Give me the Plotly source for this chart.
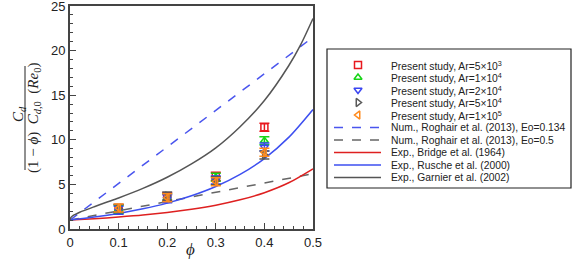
import plotly.graph_objects as go

W, H = 580, 261

# ---------------- data ----------------
phi_pts = [0.1, 0.2, 0.3, 0.4]
ar_5e3 = [2.3, 3.6, 5.9, 11.4]
ar_1e4 = [2.2, 3.5, 5.8, 9.9]
ar_2e4 = [2.1, 3.4, 5.5, 9.2]
ar_5e4 = [2.3, 3.7, 5.4, 8.3]
ar_1e5 = [2.35, 3.5, 5.3, 8.6]
err_pts = [0.45, 0.45, 0.45, 0.45]

phi_lin = [0.0, 0.1, 0.2, 0.3, 0.4, 0.5]
roghair_0134 = [1.0, 5.1, 9.2, 13.3, 17.4, 21.5]
roghair_05 = [1.0, 2.04, 3.08, 4.12, 5.16, 6.2]

phi_c = [0.0, 0.05, 0.1, 0.15, 0.2, 0.25, 0.3, 0.35, 0.4, 0.45, 0.5]
bridge = [1.0, 1.15, 1.34, 1.56, 1.85, 2.21, 2.67, 3.27, 4.07, 5.18, 6.75]
rusche = [1.0, 1.34, 1.75, 2.26, 2.90, 3.72, 4.76, 6.12, 7.90, 10.27, 13.4]

phi_g = [0.0, 0.001, 0.005, 0.01, 0.02, 0.05, 0.075, 0.1, 0.15, 0.2, 0.25,
         0.3, 0.35, 0.4, 0.45, 0.475, 0.5]
garnier = [1.0, 1.23, 1.46, 1.62, 1.88, 2.50, 2.99, 3.48, 4.55, 5.80, 7.30,
           9.10, 11.47, 14.4, 18.3, 20.7, 23.6]

x_ticks = [0, 0.1, 0.2, 0.3, 0.4, 0.5]
x_tick_text = ["0", "0.1", "0.2", "0.3", "0.4", "0.5"]
y_ticks = [0, 5, 10, 15, 20, 25]

legend_labels = [
    "Present study, Ar=5×10<sup>3</sup>",
    "Present study, Ar=1×10<sup>4</sup>",
    "Present study, Ar=2×10<sup>4</sup>",
    "Present study, Ar=5×10<sup>4</sup>",
    "Present study, Ar=1×10<sup>5</sup>",
    "Num., Roghair et al. (2013), Eo=0.134",
    "Num., Roghair et al. (2013), Eo=0.5",
    "Exp., Bridge et al. (1964)",
    "Exp., Rusche et al. (2000)",
    "Exp., Garnier et al. (2002)",
]

# ---------------- styles ----------------
RED = "#e8181e"
GREEN = "#16d416"
BLUE = "#3a45f2"
GRAY = "#5a5a5a"
ORANGE = "#ff8a1c"
DBLUE = "#4a55ee"
DGRAY = "#666666"
LRED = "#de2020"
LBLUE = "#3d4ff0"
LGRAY = "#555555"

marker_series = [
    (ar_5e3, "square-open", RED),
    (ar_1e4, "triangle-up-open", GREEN),
    (ar_2e4, "triangle-down-open", BLUE),
    (ar_5e4, "triangle-right-open", GRAY),
    (ar_1e5, "triangle-left-open", ORANGE),
]
line_series = [
    (phi_lin, roghair_0134, DBLUE, "dash", "linear"),
    (phi_lin, roghair_05, DGRAY, "dash", "linear"),
    (phi_c, bridge, LRED, "solid", "spline"),
    (phi_c, rusche, LBLUE, "solid", "spline"),
    (phi_g, garnier, LGRAY, "solid", "spline"),
]

# plot area in pixels
PL, PR, PT, PB = 70, 313, 6, 229
# legend box in pixels
LL, LR, LT, LB = 327, 571, 49, 188

fig = go.Figure()

for xs, ys, c, d, shp in line_series:
    fig.add_trace(go.Scatter(x=xs, y=ys, mode="lines",
                             line=dict(color=c, width=1.5, dash=d, shape=shp,
                                       smoothing=0.8),
                             showlegend=False, hoverinfo="skip"))

for ys, sym, c in marker_series:
    fig.add_trace(go.Scatter(
        x=phi_pts, y=ys, mode="markers",
        marker=dict(symbol=sym, size=7, color=c, line=dict(color=c, width=1.5)),
        error_y=dict(type="data", array=err_pts, color=c, thickness=1.5, width=5),
        showlegend=False))

# ---------------- manual legend ----------------
row_y = [16 + 12.5 * i for i in range(10)]
for i, (ys, sym, c) in enumerate(marker_series):
    fig.add_trace(go.Scatter(
        x=[31], y=[row_y[i]], mode="markers", xaxis="x2", yaxis="y2",
        marker=dict(symbol=sym, size=7, color=c, line=dict(color=c, width=1.5)),
        showlegend=False, hoverinfo="skip"))
for j, (xs, ys, c, d, shp) in enumerate(line_series):
    i = j + 5
    fig.add_trace(go.Scatter(
        x=[7, 54], y=[row_y[i], row_y[i]], mode="lines", xaxis="x2", yaxis="y2",
        line=dict(color=c, width=1.5, dash="dash" if d == "dash" else "solid"),
        showlegend=False, hoverinfo="skip"))
for i, lab in enumerate(legend_labels):
    fig.add_annotation(x=62, y=row_y[i], xref="x2", yref="y2", text=lab,
                       showarrow=False, xanchor="left", yanchor="middle",
                       font=dict(family="Liberation Sans, Arial", size=10.3, color="#222"))

fig.add_shape(type="rect", xref="paper", yref="paper",
              x0=LL / W, x1=LR / W, y0=1 - LB / H, y1=1 - LT / H,
              line=dict(color="#222", width=1.2), fillcolor="rgba(0,0,0,0)")

# ---------------- y title as fraction ----------------
serif = "Liberation Serif, DejaVu Serif, serif"
fig.add_annotation(x=8 / W, y=1 - 114 / H, xref="paper", yref="paper",
                   text="<i>C</i><sub><i>d</i></sub>", textangle=-90,
                   showarrow=False, font=dict(family=serif, size=15, color="#222"))
fig.add_annotation(x=23 / W, y=1 - 118 / H, xref="paper", yref="paper",
                   text="(1 − <i>ϕ</i>)  <i>C</i><sub><i>d</i>,0</sub>  (<i>Re</i><sub>0</sub>)",
                   textangle=-90, showarrow=False,
                   font=dict(family=serif, size=15, color="#222"))
fig.add_shape(type="line", xref="paper", yref="paper",
              x0=25 / W, x1=25 / W, y0=1 - 170 / H, y1=1 - 66 / H,
              line=dict(color="#222", width=1))

# x title
fig.add_annotation(x=184 / W, y=0, xref="paper", yref="paper",
                   text="<i>ϕ</i>", showarrow=False, yanchor="bottom",
                   font=dict(family=serif, size=17, color="#222"))

axis_font = dict(family="Liberation Sans, Arial", size=13, color="#222")
fig.update_layout(
    width=W, height=H,
    margin=dict(l=0, r=0, t=0, b=0),
    paper_bgcolor="white", plot_bgcolor="white",
    showlegend=False,
    xaxis=dict(domain=[PL / W, PR / W], range=[0, 0.5],
               tickvals=x_ticks, ticktext=x_tick_text,
               ticks="inside", ticklen=6, tickwidth=1, tickcolor="#444",
               minor=dict(dtick=0.02, ticks="inside", ticklen=3, tickcolor="#444"),
               showline=True, linecolor="#444", linewidth=2, mirror=True,
               showgrid=False, zeroline=False, tickfont=axis_font, automargin=False,
               ticklabeloverflow="allow"),
    yaxis=dict(domain=[1 - PB / H, 1 - PT / H], range=[0, 25],
               tickvals=y_ticks,
               ticks="inside", ticklen=6, tickwidth=1, tickcolor="#444",
               minor=dict(dtick=1, ticks="inside", ticklen=3, tickcolor="#444"),
               showline=True, linecolor="#444", linewidth=2, mirror=True,
               showgrid=False, zeroline=False, tickfont=axis_font, automargin=False,
               ticklabeloverflow="allow"),
    xaxis2=dict(domain=[LL / W, LR / W], range=[0, LR - LL], visible=False,
                anchor="y2", fixedrange=True),
    yaxis2=dict(domain=[1 - LB / H, 1 - LT / H], range=[LB - LT, 0], visible=False,
                anchor="x2", fixedrange=True),
)

fig.write_html("out.html", config={"displayModeBar": False},
               post_script="document.body.style.margin='0';")
